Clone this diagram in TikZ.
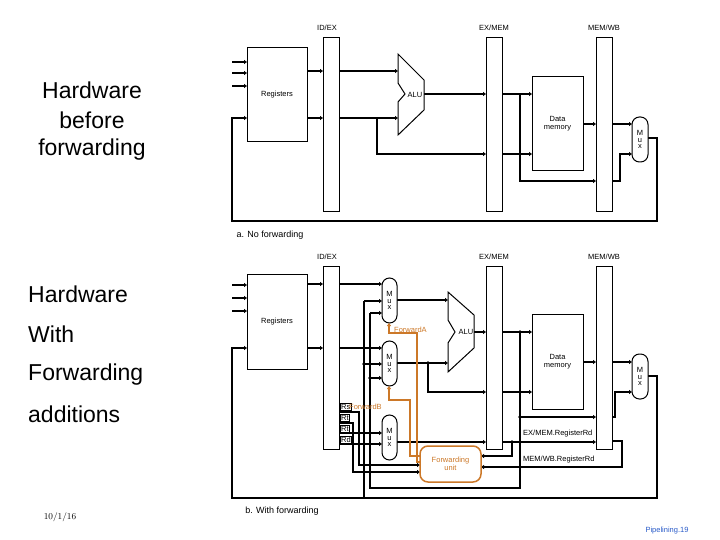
\documentclass[tikz,border=0pt]{standalone}
\usepackage{fontspec}
\setmainfont{Liberation Sans}
\usetikzlibrary{arrows.meta}
\definecolor{fwd}{RGB}{204,120,40}
\definecolor{pblue}{RGB}{40,90,200}
\begin{document}
\begin{tikzpicture}[x=1pt,y=-1pt,
  w/.style={line width=2.2pt},
  a/.style={line width=2.2pt,-{Triangle[length=3pt,width=4pt]}},
  o/.style={line width=1.6pt,draw=fwd,-{Triangle[length=3pt,width=4pt]}},
  bar/.style={draw,line width=1pt,fill=white},
  box/.style={draw,line width=1pt,fill=white},
  lab/.style={font=\fontsize{7.5}{8}\selectfont,inner sep=0pt},
  dot/.style={circle,fill,inner sep=1.3pt},
  big/.style={font=\fontsize{23}{27}\selectfont,inner sep=0pt}]
\useasboundingbox (0,0) rectangle (720,540);
\newcommand{\muxnode}[5]{% name, x1,y1,x2,y2
  \draw[line width=1pt,fill=white,rounded corners=7.5pt] (#2,#3) rectangle (#4,#5);
  \node[lab,align=center] (#1) at ({(#2+#4)/2},{(#3+#5)/2}) {M\\[-1.5pt]u\\[-1.5pt]x};}

% ================= TOP =================
\node[big] (t1a) at (92,90) {Hardware};
\node[big] (t1b) at (92,120) {before};
\node[big] (t1c) at (92,150) {forwarding};
\foreach \yy in {62,73,86} \draw[a] (232,\yy) -- (247,\yy);
\draw[a] (307,71) -- (323,71);
\draw[a] (307,118) -- (323,118);
\draw[a] (339,71) -- (398,71);
\draw[a] (339,118) -- (398,118);
\draw[a] (377,118) -- (377,154) -- (486,154);
\draw[a] (424,94) -- (486,94);
\draw[a] (502,94) -- (532,94);
\draw[a] (502,154) -- (532,154);
\draw[a] (520,94) -- (520,181) -- (596,181);
\draw[a] (583,124) -- (596,124);
\draw[a] (612,124) -- (632,124);
\draw[a] (612,181) -- (620,181) -- (620,154) -- (632,154);
\draw[a] (648,138) -- (657,138) -- (657,221) -- (232,221) -- (232,118) -- (247,118);
\node[box,minimum width=60pt,minimum height=94pt,lab] (reg1) at (277,95) {Registers};
\draw[bar] (323,38) rectangle (339,212); \node[lab] (ie1) at (327,28) {ID/EX};
\draw[bar] (486,38) rectangle (502,212); \node[lab] (em1) at (494,28) {EX/MEM};
\draw[bar] (596,38) rectangle (612,212); \node[lab] (mw1) at (604,28) {MEM/WB};
\draw[line width=1pt,fill=white] (398,54) -- (424,80) -- (424,110) -- (398,135) -- (398,102) -- (405,94) -- (398,83) -- cycle;
\node[lab] (alu1) at (415,95) {ALU};
\node[box,minimum width=51pt,minimum height=94pt,lab,align=center] (dm1) at (557.5,124) {Data\\memory};
\muxnode{mux1}{632}{117}{648}{162}
\node[font=\fontsize{9}{10}\selectfont,inner sep=0pt] (capa) at (270,235) {a. No forwarding};

% ================= BOTTOM =================
\node[big,anchor=west] (h1) at (28,294) {Hardware};
\node[big,anchor=west] (h2) at (28,334) {With};
\node[big,anchor=west] (h3) at (28,375) {Forwarding};
\node[big,anchor=west] (h4) at (28,414) {additions};
\foreach \yy in {285,298,311} \draw[a] (232,\yy) -- (247,\yy);
\draw[a] (307,284) -- (323,284);
\draw[a] (307,348) -- (323,348);
\draw[a] (339,284) -- (382,284);
\draw[a] (339,348) -- (382,348);
\draw[a] (648,376) -- (657,376) -- (657,498) -- (232,498) -- (232,348) -- (247,348);
\draw[w] (364,498) -- (364,301);
\draw[a] (364,301) -- (382,301);
\draw[a] (364,364) -- (382,364);
\node[dot] at (364,364) {};
\draw[w] (520,332) -- (520,488) -- (370,488) -- (370,313);
\draw[a] (370,313) -- (382,313);
\draw[a] (370,378) -- (382,378);
\node[dot] at (370,378) {};
\node[dot] at (520,332) {};
\node[dot] at (520,417) {};
\draw[a] (397,300) -- (448,300);
\draw[a] (397,363) -- (448,363);
\draw[a] (428,363) -- (428,392) -- (486,392);
\node[dot] at (428,363) {};
\draw[a] (474,332) -- (486,332);
\draw[a] (502,332) -- (532,332);
\draw[a] (502,392) -- (532,392);
\draw[a] (520,417) -- (596,417);
\draw[a] (583,362) -- (596,362);
\draw[a] (612,362) -- (632,362);
\draw[a] (612,417) -- (615,417) -- (615,392) -- (632,392);
\draw[a] (339,412) -- (359,412) -- (359,465) -- (420,465);
\draw[a] (339,423) -- (353,423) -- (353,472) -- (420,472);
\draw[a] (339,433) -- (382,433);
\draw[a] (339,444) -- (382,444);
\draw[a] (397,442) -- (486,442);
\draw[a] (502,442) -- (596,442);
\draw[a] (512,442) -- (512,456) -- (481,456);
\node[dot] at (512,442) {};
\draw[a] (612,441) -- (622,441) -- (622,467) -- (481,467);
\node[box,minimum width=60pt,minimum height=95pt,lab] (reg2) at (277,321.5) {Registers};
\draw[bar] (323,266) rectangle (339,449); \node[lab] (ie2) at (327,257) {ID/EX};
\draw[bar] (486,266) rectangle (502,449); \node[lab] (em2) at (494,257) {EX/MEM};
\draw[bar] (596,266) rectangle (612,449); \node[lab] (mw2) at (604,257) {MEM/WB};
\draw[line width=1pt,fill=white] (448,292) -- (474,315) -- (474,348) -- (448,372) -- (448,343) -- (455,332) -- (448,320) -- cycle;
\node[lab] (alu2) at (466,332) {ALU};
\node[box,minimum width=51pt,minimum height=95pt,lab,align=center] (dm2) at (557.5,361.5) {Data\\memory};
\muxnode{muxa}{382}{278}{397}{323}
\muxnode{muxb}{382}{341}{397}{386}
\muxnode{muxc}{382}{415}{397}{460}
\muxnode{mux2}{632}{354}{648}{399}
\foreach \yy/\t in {407/Rs,418/Rt,429/Rt,440/Rd}
  \node[lab,draw,line width=0.6pt,fill=white,anchor=west,inner sep=0.8pt] at (340,\yy) {\t};
\draw[o] (420,462) -- (417,462) -- (417,333) -- (389,333) -- (389,323);
\draw[o] (420,456) -- (410,456) -- (410,400) -- (389,400) -- (389,386);
\node[draw=fwd,line width=1.5pt,rounded corners=8pt,fill=white,minimum width=61pt,minimum height=36pt,lab,text=fwd,align=center] (fu) at (450.5,464) {Forwarding\\unit};
\node[lab,text=fwd,anchor=west] (fa) at (394,330) {ForwardA};
\node[lab,text=fwd,anchor=west] (fb) at (349,407) {ForwardB};
\node[lab,anchor=west] (exr) at (523,434) {EX/MEM.RegisterRd};
\node[lab,anchor=west] (mwr) at (523,460) {MEM/WB.RegisterRd};
\node[font=\fontsize{9}{10}\selectfont,inner sep=0pt] (capb) at (282,511) {b. With forwarding};
\node[font=\fontfamily{lmr}\fontsize{9}{10}\selectfont,inner sep=0pt] (date) at (60,517) {10/1/16};
\node[font=\fontsize{7.5}{8}\selectfont,text=pblue,inner sep=0pt] (pg) at (667,531) {Pipelining.19};
\end{tikzpicture}
\end{document}
